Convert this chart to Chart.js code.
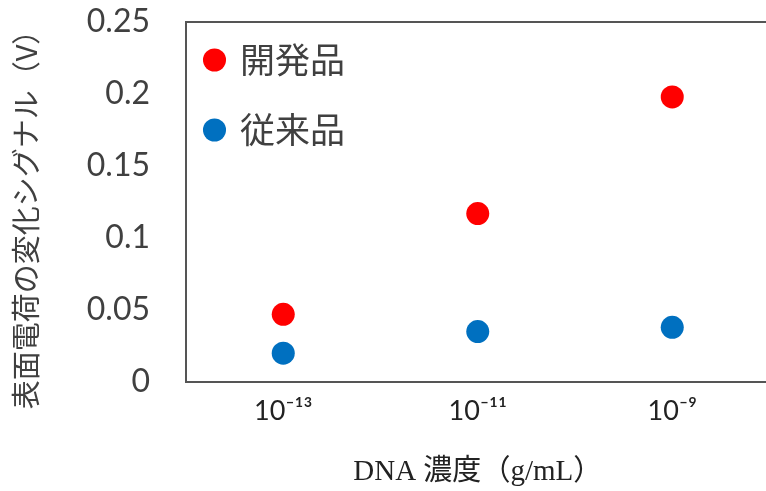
<!DOCTYPE html>
<html>
<head>
<meta charset="utf-8">
<script src="https://cdn.jsdelivr.net/npm/chart.js@4/dist/chart.umd.min.js"></script>
<style>
html, body { margin: 0; padding: 0; overflow: hidden; background: #fff; }
#wrap { width: 781px; height: 491px; position: relative; }
</style>
</head>
<body>
<div id="wrap"><canvas id="c"></canvas></div>
<script>
const categories = ['10\u207B\u00B9\u00B3', '10\u207B\u00B9\u00B9', '10\u207B\u2079'];
const seriesNames = ['開発品', '従来品'];
const developedValues = [0.047, 0.117, 0.198];
const conventionalValues = [0.020, 0.035, 0.038];
const yTicks = [0, 0.05, 0.1, 0.15, 0.2, 0.25];
const yTitle = '表面電荷の変化シグナル（V）';
const xTitle = 'DNA 濃度（g/mL）';

const boxPlugin = {
  id: 'box',
  beforeDatasetsDraw(chart) {
    const a = chart.chartArea, ctx = chart.ctx;
    ctx.save();
    ctx.strokeStyle = '#555555';
    ctx.lineWidth = 2;
    ctx.strokeRect(a.left, a.top, a.right - a.left, a.bottom - a.top);
    ctx.restore();
  }
};

new Chart(document.getElementById('c'), {
  type: 'line',
  data: {
    labels: categories,
    datasets: [
      { label: seriesNames[0], data: developedValues, showLine: false,
        backgroundColor: '#FF0000', borderColor: '#FF0000', borderWidth: 0,
        pointRadius: 11.5, pointHoverRadius: 11.5, pointStyle: 'circle' },
      { label: seriesNames[1], data: conventionalValues, showLine: false,
        backgroundColor: '#0070C0', borderColor: '#0070C0', borderWidth: 0,
        pointRadius: 11.5, pointHoverRadius: 11.5, pointStyle: 'circle' }
    ]
  },
  options: {
    responsive: true,
    maintainAspectRatio: false,
    animation: false,
    layout: { padding: { top: 22, right: 6, left: 0, bottom: 0 } },
    plugins: {
      tooltip: { enabled: false },
      legend: {
        position: 'chartArea',
        fullSize: false,
        align: 'start',
        title: { display: true, text: '', font: { size: 1, lineHeight: 1 }, padding: { top: 21, bottom: 0 } },
        labels: {
          usePointStyle: true,
          boxWidth: 16,
          boxHeight: 16.3,
          padding: 20.5,
          color: '#404040',
          font: { family: "'Noto Sans CJK JP', sans-serif", size: 35, lineHeight: 1.414 },
          generateLabels: (chart) => Chart.defaults.plugins.legend.labels.generateLabels(chart)
            .map(item => Object.assign({}, item, { text: [item.text] }))
        }
      }
    },
    scales: {
      x: {
        type: 'category',
        offset: true,
        grid: { display: false, drawTicks: false },
        border: { display: false },
        ticks: {
          padding: 13,
          color: '#222222',
          font: { family: "Lato, 'DejaVu Sans', sans-serif", size: 27 },
          maxRotation: 0
        },
        title: {
          display: true,
          text: xTitle,
          color: '#222222',
          font: { family: "'Liberation Serif', 'Noto Sans CJK JP', serif", size: 29, lineHeight: 1.2 },
          padding: { top: 0, bottom: 1 }
        },
        afterFit(scale) { scale.height = 109; }
      },
      y: {
        min: 0,
        max: 0.25,
        afterBuildTicks(scale) { scale.ticks = yTicks.map(v => ({ value: v })); },
        grid: { display: true, drawOnChartArea: false, drawTicks: true, tickLength: 36, color: 'rgba(0,0,0,0)' },
        border: { display: false },
        ticks: {
          padding: 0,
          color: '#404040',
          font: { family: "Lato, sans-serif", size: 32 },
          callback: (v) => String(v)
        },
        title: {
          display: true,
          text: yTitle + '\u2002 ',
          color: '#404040',
          font: { family: "'Noto Sans CJK JP', sans-serif", size: 29, lineHeight: 1.2 },
          padding: { top: 9, bottom: 0 }
        },
        afterFit(scale) { scale.width = 186; }
      }
    }
  },
  plugins: [boxPlugin]
});
</script>
</body>
</html>
